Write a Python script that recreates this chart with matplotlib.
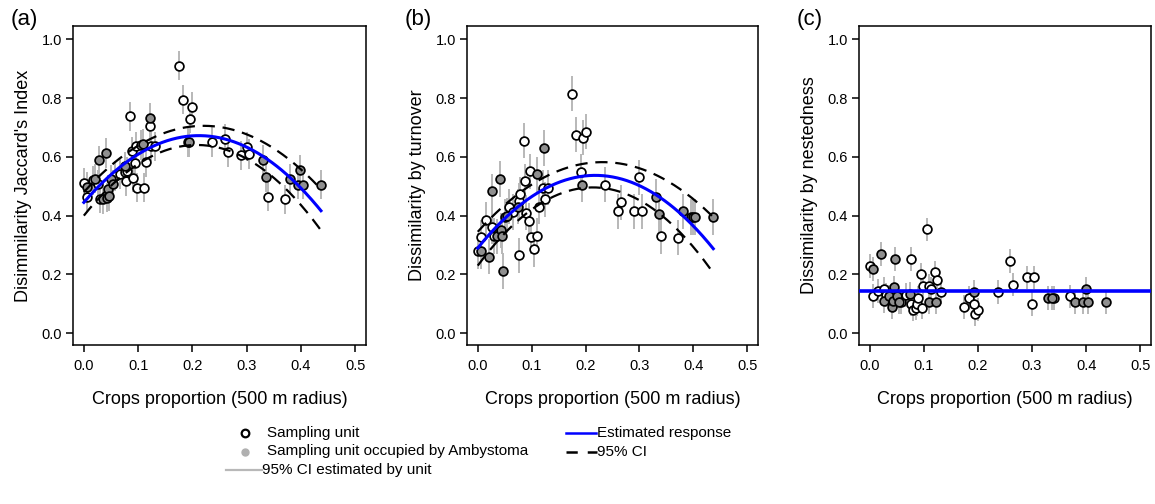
import numpy as np
import matplotlib
matplotlib.use("Agg")
import matplotlib.pyplot as plt
from matplotlib.lines import Line2D

plt.rcParams["font.family"] = ["Liberation Sans", "DejaVu Sans"]

# ---- sampling units: crop proportion, occupancy and beta-diversity components ----
crops = [0.175, 0.183, 0.195, 0.200, 0.193, 0.192, 0.237, 0.260, 0.265, 0.290,
         0.300, 0.304, 0.330, 0.336, 0.340, 0.371, 0.380, 0.395, 0.399, 0.404,
         0.437,
         0.006, 0.021, 0.027, 0.035, 0.041, 0.043, 0.045, 0.046, 0.050, 0.054,
         0.075, 0.109, 0.122,
         0.000, 0.006, 0.016, 0.026, 0.030, 0.058, 0.066, 0.076, 0.077, 0.079,
         0.085, 0.088, 0.090, 0.095, 0.096, 0.098, 0.105, 0.110, 0.114, 0.121,
         0.124, 0.131]
occupied = [0, 0, 0, 0, 1, 0, 0, 0, 0, 0,
            0, 0, 1, 1, 0, 0, 1, 1, 1, 1,
            1,
            1, 1, 1, 1, 1, 1, 1, 1, 1, 1,
            1, 1, 1,
            0, 0, 0, 0, 0, 0, 0, 0, 0, 0,
            0, 0, 0, 0, 0, 0, 0, 0, 0, 0,
            0, 0]
jaccard = [0.910, 0.795, 0.730, 0.770, 0.650, 0.650, 0.650, 0.660, 0.615, 0.605,
           0.635, 0.610, 0.590, 0.530, 0.465, 0.455, 0.525, 0.505, 0.555, 0.505,
           0.505,
           0.497, 0.526, 0.588, 0.455, 0.613, 0.461, 0.489, 0.466, 0.523, 0.506,
           0.568, 0.644, 0.732,
           0.512, 0.464, 0.520, 0.506, 0.458, 0.535, 0.542, 0.550, 0.517, 0.551,
           0.738, 0.619, 0.529, 0.580, 0.636, 0.495, 0.640, 0.495, 0.582, 0.704,
           0.636, 0.636]
turnover = [0.815, 0.675, 0.665, 0.685, 0.505, 0.550, 0.505, 0.415, 0.445, 0.415,
            0.530, 0.415, 0.465, 0.405, 0.330, 0.325, 0.415, 0.395, 0.395, 0.395,
            0.395,
            0.280, 0.261, 0.483, 0.330, 0.525, 0.350, 0.331, 0.212, 0.397, 0.400,
            0.430, 0.540, 0.630,
            0.280, 0.326, 0.385, 0.363, 0.331, 0.430, 0.412, 0.450, 0.265, 0.472,
            0.655, 0.517, 0.410, 0.382, 0.551, 0.329, 0.286, 0.331, 0.430, 0.495,
            0.455, 0.495]
nestedness = [0.090, 0.120, 0.065, 0.080, 0.140, 0.100, 0.140, 0.245, 0.165, 0.190,
              0.100, 0.190, 0.120, 0.120, 0.120, 0.125, 0.105, 0.105, 0.150, 0.105,
              0.105,
              0.218, 0.269, 0.110, 0.125, 0.088, 0.110, 0.156, 0.252, 0.127, 0.105,
              0.135, 0.105, 0.105,
              0.229, 0.127, 0.144, 0.150, 0.130, 0.105, 0.130, 0.100, 0.252, 0.080,
              0.085, 0.100, 0.120, 0.200, 0.087, 0.160, 0.353, 0.160, 0.150, 0.207,
              0.180, 0.140]

# half-width of each unit's 95% CI, per response
unit_ci = [0.05, 0.06, 0.04]

# quadratic model coefficients (intercept, linear, quadratic): fit and CI bounds
fit_jaccard = [0.445, 2.142, -5.05]
upper_jaccard = [0.480, 2.041, -4.619]
lower_jaccard = [0.400, 2.309, -5.546]
fit_turnover = [0.290, 2.266, -5.198]
upper_turnover = [0.345, 2.048, -4.425]
lower_turnover = [0.230, 2.491, -5.832]
nested_mean = 0.142

ylabels = ["Disimmilarity Jaccard's Index", "Dissimilarity by turnover",
           "Dissimilarity by nestedness"]
panel_tags = ["(a)", "(b)", "(c)"]
xlabel = "Crops proportion (500 m radius)"
xticks = [0.0, 0.1, 0.2, 0.3, 0.4, 0.5]
yticks = [0.0, 0.2, 0.4, 0.6, 0.8, 1.0]

W, H = 1155, 504
fig = plt.figure(figsize=(W / 100, H / 100), dpi=100)

ax_px = [(73, 366), (467, 758), (859, 1151)]
top_px, bot_px = 26, 345

OPEN = "white"
FILLED = "#8f8f8f"
CI_GREY = "#b8b8b8"


def poly(c, x):
    return c[0] + c[1] * x + c[2] * x ** 2


x = np.array(crops)
occ = np.array(occupied, dtype=bool)
responses = [np.array(jaccard), np.array(turnover), np.array(nestedness)]

for i, (l, r) in enumerate(ax_px):
    ax = fig.add_axes([l / W, 1 - bot_px / H, (r - l) / W, (bot_px - top_px) / H])
    y = responses[i]
    ax.vlines(x, y - unit_ci[i], y + unit_ci[i], color=CI_GREY, lw=1.4, zorder=1)
    ax.scatter(x[~occ], y[~occ], s=40, facecolor=OPEN, edgecolor="black",
               linewidths=1.25, zorder=3)
    ax.scatter(x[occ], y[occ], s=40, facecolor=FILLED, edgecolor="black",
               linewidths=1.25, zorder=3)

    if i < 2:
        fit, up, lo = [(fit_jaccard, upper_jaccard, lower_jaccard),
                       (fit_turnover, upper_turnover, lower_turnover)][i]
        xs = np.linspace(x.min(), x.max(), 200)
        for c in (up, lo):
            ax.plot(xs, poly(c, xs), color="black", lw=1.6, dashes=(5.5, 3.5),
                    zorder=4)
        ax.plot(xs, poly(fit, xs), color="#0000ff", lw=2.2, zorder=5)
    else:
        ax.axhline(nested_mean, color="#0000ff", lw=2.6, zorder=5)

    ax.set_xlim(-0.02, 0.52)
    ax.set_ylim(-0.04, 1.045)
    ax.set_xticks(xticks)
    ax.set_xticklabels([f"{t:.1f}" for t in xticks])
    ax.set_yticks(yticks)
    ax.set_yticklabels([f"{t:.1f}" for t in yticks])
    ax.tick_params(direction="out", length=5, width=1.1, labelsize=10.5,
                   pad=3, colors="black")
    ax.tick_params(axis="x", pad=5)
    for s in ax.spines.values():
        s.set_linewidth(1.1)
    ax.set_xlabel(xlabel, fontsize=13, labelpad=13)
    ax.set_ylabel(ylabels[i], fontsize=13, labelpad=7)
    fig.text((l - 62) / W, 1 - 19 / H, panel_tags[i], fontsize=16,
             ha="left", va="center")

# ---- legend below the panels ----
def fx(px):
    return px / W


def fy(py):
    return 1 - py / H


rows = [433, 451.5, 470]
fig.add_artist(Line2D([fx(245)], [fy(rows[0])], marker="o", markersize=5.5,
                      markerfacecolor="white", markeredgecolor="black",
                      markeredgewidth=1.6, transform=fig.transFigure))
fig.add_artist(Line2D([fx(245)], [fy(rows[1])], marker="o", markersize=5,
                      markerfacecolor="#b0b0b0", markeredgecolor="#b0b0b0",
                      transform=fig.transFigure))
fig.add_artist(Line2D([fx(226), fx(262)], [fy(rows[2])] * 2, color=CI_GREY,
                      lw=1.6, transform=fig.transFigure))
fig.text(fx(267), fy(rows[0]), "Sampling unit", fontsize=11, va="center")
fig.text(fx(267), fy(rows[1]), "Sampling unit occupied by Ambystoma",
         fontsize=11, va="center")
fig.text(fx(262), fy(rows[2]), "95% CI estimated by unit", fontsize=11,
         va="center")

fig.add_artist(Line2D([fx(566), fx(596)], [fy(rows[0])] * 2, color="#0000ff",
                      lw=1.8, transform=fig.transFigure))
fig.add_artist(Line2D([fx(566), fx(597)], [fy(rows[1])] * 2, color="black",
                      lw=1.8, dashes=(4.5, 4), transform=fig.transFigure))
fig.text(fx(597), fy(rows[0]), "Estimated response", fontsize=11, va="center")
fig.text(fx(597), fy(rows[1]), "95% CI", fontsize=11, va="center")

fig.savefig("out.png", dpi=100, facecolor="white")
